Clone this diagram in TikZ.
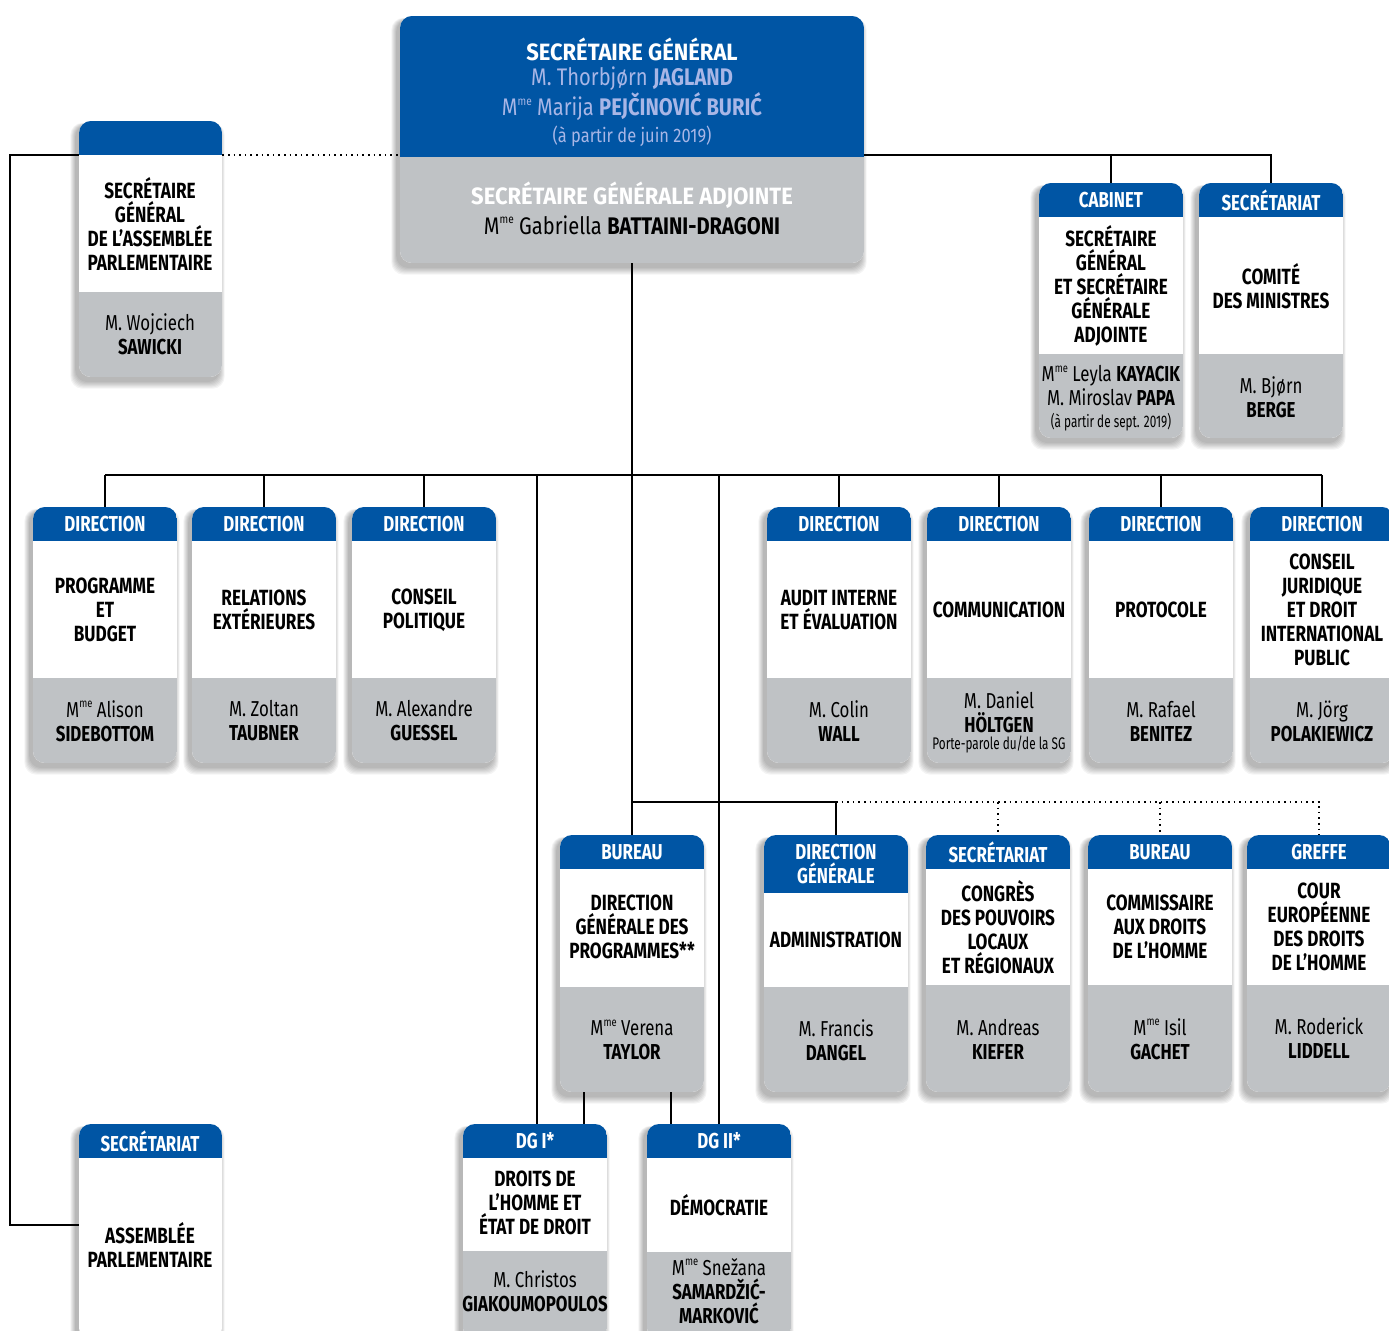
\documentclass[tikz,border=0pt]{standalone}
\usepackage{fontspec}
\setmainfont[FakeStretch=0.78]{Fira Sans}
\newfontfamily\widefont[FakeStretch=0.93]{Fira Sans}
\newfontfamily\sgnamefont[FakeStretch=0.84]{Fira Sans}
\newfontfamily\narrowfont[FakeStretch=0.7]{Fira Sans}
\usetikzlibrary{fit}
\definecolor{cblue}{HTML}{0055A4}
\definecolor{cgray}{HTML}{BFC2C5}
\definecolor{clight}{HTML}{A8B6E6}
\newcommand\mme{M\raisebox{0.85ex}{\fontsize{6}{6}\selectfont me}}
\tikzset{
  x=0.5pt, y=-0.5pt,
  link/.style={line width=0.9pt, black},
  dotlink/.style={line width=0.8pt, black, dotted},
  hd/.style={text=white, font=\fontsize{10.8}{12}\selectfont\bfseries, align=center, inner sep=0},
  tt/.style={text=black, font=\fontsize{11}{12}\selectfont\bfseries, align=center, inner sep=0},
  nm/.style={text=black, font=\fontsize{10.8}{12}\selectfont, align=center, inner sep=0},
  sm/.style={text=black, font=\narrowfont\fontsize{8.4}{10}\selectfont, align=center, inner sep=0},
  sgh/.style={text=white, font=\widefont\fontsize{11.8}{14}\selectfont\bfseries, align=center, inner sep=0},
  sgn/.style={text=clight, font=\sgnamefont\fontsize{12}{14}\selectfont, align=center, inner sep=0},
  sgs/.style={text=clight, font=\sgnamefont\fontsize{9.8}{12}\selectfont, align=center, inner sep=0},
  sgb/.style={text=black, font=\sgnamefont\fontsize{12}{14}\selectfont, align=center, inner sep=0},
  frame/.style={inner sep=0, draw=none},
}
\newcommand\card[7]{%
  \foreach \s in {1,...,7}{\fill[black,opacity=0.045,rounded corners=6pt] (#2-3-\s*0.8,#3+4-\s*0.3) rectangle (#4-3+\s*0.8,#5+4+\s*1.1);}
  \begin{scope}
    \clip[rounded corners=6pt] (#2,#3) rectangle (#4,#5);
    \fill[white] (#2,#3) rectangle (#4,#5);
    \fill[cblue] (#2,#3) rectangle (#4,#6);
    \fill[cgray] (#2,#7) rectangle (#4,#5);
  \end{scope}
  \node[frame, fit={(#2,#3) (#4,#5)}] (#1) {};
}
\begin{document}
\begin{tikzpicture}
\fill[white] (0,0) rectangle (1389,1331);
\useasboundingbox (0,0) rectangle (1389,1331);

% ---- cards ----
\card{sg}{400}{16}{864}{263}{157}{157}
\card{sgpa}{79}{121}{222}{377}{155}{292}
\card{cab}{1039}{183}{1183}{438}{217}{354}
\card{cm}{1199}{183}{1343}{438}{217}{354}
\card{d1}{33}{507}{177}{763}{541}{678}
\card{d2}{192}{507}{336}{763}{541}{678}
\card{d3}{352}{507}{496}{763}{541}{678}
\card{d4}{767}{507}{911}{763}{541}{678}
\card{d5}{927}{507}{1071}{763}{541}{678}
\card{d6}{1089}{507}{1233}{763}{541}{678}
\card{d7}{1250}{507}{1394}{763}{541}{678}
\card{bdgp}{560}{835}{704}{1092}{869}{987}
\card{dga}{764}{835}{908}{1092}{893}{987}
\card{cong}{926}{835}{1070}{1092}{869}{985}
\card{comm}{1088}{835}{1232}{1092}{869}{985}
\card{court}{1247}{835}{1391}{1092}{869}{985}
\card{dg1}{463}{1124}{607}{1340}{1158}{1251}
\card{dg2}{647}{1124}{791}{1340}{1158}{1252}
\card{secpa}{79}{1124}{222}{1340}{1158}{1340}

% ---- texts ----
\node[sgh] (sgt1) at (632,49) {SECRÉTAIRE GÉNÉRAL};
\node[sgn] (sgt2) at (632,79) {M. Thorbjørn \textbf{JAGLAND}};
\node[sgn] (sgt3) at (632,107) {\mme{} Marija \textbf{PEJČINOVIĆ BURIĆ}};
\node[sgs] (sgt4) at (632,136) {(à partir de juin 2019)};
\node[sgh] (sga1) at (632,195) {SECRÉTAIRE GÉNÉRALE ADJOINTE};
\node[sgb] (sga2) at (632,225) {\mme{} Gabriella \textbf{BATTAINI-DRAGONI}};

\node[tt] (sgpat) at (150,224) {SECRÉTAIRE\\GÉNÉRAL\\DE L’ASSEMBLÉE\\PARLEMENTAIRE};
\node[nm] (sgpan) at (150,334) {M. Wojciech\\\textbf{SAWICKI}};

\node[hd] (cabh) at (1111,200) {CABINET};
\node[tt] (cabt) at (1111,286) {SECRÉTAIRE\\GÉNÉRAL\\ET SECRÉTAIRE\\GÉNÉRALE\\ADJOINTE};
\node[nm] (cabn) at (1111,386) {\mme{} Leyla \textbf{KAYACIK}\\M. Miroslav \textbf{PAPA}};
\node[sm] (cabs) at (1111,422) {(à partir de sept. 2019)};

\node[hd] (cmh) at (1271,200) {SECRÉTARIAT};
\node[tt] (cmt) at (1271,286) {COMITÉ\\DES MINISTRES};
\node[nm] (cmn) at (1271,397) {M. Bjørn\\\textbf{BERGE}};

\node[hd] (d1h) at (105,524) {DIRECTION};
\node[tt] (d1t) at (105,610) {PROGRAMME\\ET\\BUDGET};
\node[nm] (d1n) at (105,721) {\mme{} Alison\\\textbf{SIDEBOTTOM}};

\node[hd] (d2h) at (264,524) {DIRECTION};
\node[tt] (d2t) at (264,610) {RELATIONS\\EXTÉRIEURES};
\node[nm] (d2n) at (264,721) {M. Zoltan\\\textbf{TAUBNER}};

\node[hd] (d3h) at (424,524) {DIRECTION};
\node[tt] (d3t) at (424,610) {CONSEIL\\POLITIQUE};
\node[nm] (d3n) at (424,721) {M. Alexandre\\\textbf{GUESSEL}};

\node[hd] (d4h) at (839,524) {DIRECTION};
\node[tt] (d4t) at (839,610) {AUDIT INTERNE\\ET ÉVALUATION};
\node[nm] (d4n) at (839,721) {M. Colin\\\textbf{WALL}};

\node[hd] (d5h) at (999,524) {DIRECTION};
\node[tt] (d5t) at (999,610) {COMMUNICATION};
\node[nm] (d5n) at (999,712) {M. Daniel\\\textbf{HÖLTGEN}};
\node[sm] (d5s) at (999,745) {Porte-parole du/de la SG};

\node[hd] (d6h) at (1161,524) {DIRECTION};
\node[tt] (d6t) at (1161,610) {PROTOCOLE};
\node[nm] (d6n) at (1161,721) {M. Rafael\\\textbf{BENITEZ}};

\node[hd] (d7h) at (1322,524) {DIRECTION};
\node[tt] (d7t) at (1322,610) {CONSEIL\\JURIDIQUE\\ET DROIT\\INTERNATIONAL\\PUBLIC};
\node[nm] (d7n) at (1322,721) {M. Jörg\\\textbf{POLAKIEWICZ}};

\node[hd] (bdgph) at (632,852) {BUREAU};
\node[tt] (bdgpt) at (632,927) {DIRECTION\\GÉNÉRALE DES\\PROGRAMMES**};
\node[nm] (bdgpn) at (632,1040) {\mme{} Verena\\\textbf{TAYLOR}};

\node[hd] (dgah) at (836,864) {DIRECTION\\GÉNÉRALE};
\node[tt] (dgat) at (836,940) {ADMINISTRATION};
\node[nm] (dgan) at (836,1040) {M. Francis\\\textbf{DANGEL}};

\node[hd] (congh) at (998,852) {SECRÉTARIAT};
\node[tt] (congt) at (998,927) {CONGRÈS\\DES POUVOIRS\\LOCAUX\\ET RÉGIONAUX};
\node[nm] (congn) at (998,1039) {M. Andreas\\\textbf{KIEFER}};

\node[hd] (commh) at (1160,852) {BUREAU};
\node[tt] (commt) at (1160,927) {COMMISSAIRE\\AUX DROITS\\DE L’HOMME};
\node[nm] (commn) at (1160,1039) {\mme{} Isil\\\textbf{GACHET}};

\node[hd] (courth) at (1319,852) {GREFFE};
\node[tt] (courtt) at (1319,927) {COUR\\EUROPÉENNE\\DES DROITS\\DE L’HOMME};
\node[nm] (courtn) at (1319,1038) {M. Roderick\\\textbf{LIDDELL}};

\node[hd] (dg1h) at (535,1141) {DG I*};
\node[tt] (dg1t) at (535,1203) {DROITS DE\\L’HOMME ET\\ÉTAT DE DROIT};
\node[nm] (dg1n) at (535,1291) {M. Christos\\\textbf{GIAKOUMOPOULOS}};

\node[hd] (dg2h) at (719,1141) {DG II*};
\node[tt] (dg2t) at (719,1205) {DÉMOCRATIE};
\node[nm] (dg2n) at (719,1291) {\mme{} Snežana\\\textbf{SAMARDŽIĆ-}\\\textbf{MARKOVIĆ}};

\node[hd] (secpah) at (150,1141) {SECRÉTARIAT};
\node[tt] (secpat) at (150,1245) {ASSEMBLÉE\\PARLEMENTAIRE};

% ---- connectors ----
\coordinate (lc) at (10,155);
\coordinate (bus) at (0,475);
\coordinate (bus2) at (0,802);
\draw[link] (sgpa.west |- lc) -- (lc) |- (secpa.west |- 0,1225);
\draw[dotlink] (sgpa.east |- lc) -- (sg.west |- lc);
\draw[link] (sg.east |- lc) -| (cm.north);
\draw[link] (cab.north |- lc) -- (cab.north);
\draw[link] (sg.south) -- (bdgp.north);
\draw[link] (d1.north |- bus) -- (d7.north |- bus);
\foreach \d in {d1,d2,d3,d4,d5,d6,d7}{\draw[link] (\d.north |- bus) -- (\d.north);}
\draw[link] ([xshift=1pt]dg1.north |- bus) -- ([xshift=1pt]dg1.north);
\draw[link] (dg2.north |- bus) -- (dg2.north);
\path (dg1.north) ++(49,0) coordinate (dg1r);
\path (dg2.north) ++(-48,0) coordinate (dg2l);
\draw[link] (dg1r |- bdgp.south) -- (dg1r);
\draw[link] (dg2l |- bdgp.south) -- (dg2l);
\draw[link] (bdgp.north |- bus2) -| (dga.north);
\draw[dotlink] (dga.north |- bus2) -| (court.north);
\draw[dotlink] (cong.north |- bus2) -- (cong.north);
\draw[dotlink] (comm.north |- bus2) -- (comm.north);
\end{tikzpicture}
\end{document}
